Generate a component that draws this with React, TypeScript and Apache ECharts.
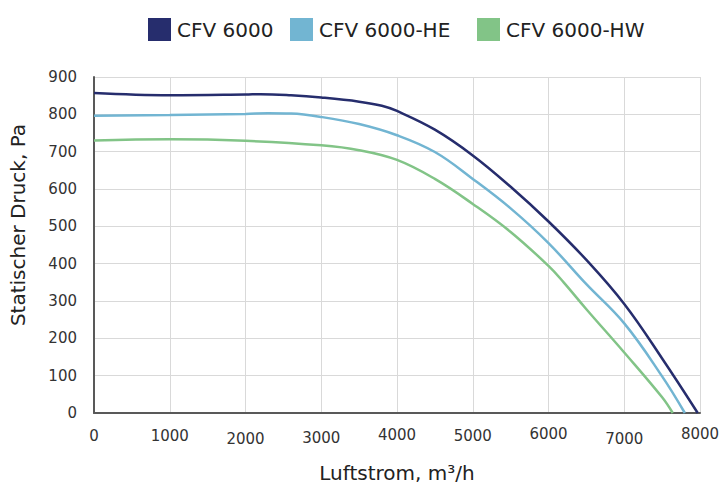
import React, { useEffect, useRef } from "react";
import * as echarts from "echarts";

const seriesNames = ["CFV 6000", "CFV 6000-HE", "CFV 6000-HW"];
const seriesColors = ["#262D6D", "#72B5D2", "#82C487"];

const flowA = [0, 1000, 2000, 2200, 2600, 3000, 3500, 3800, 4000, 4500, 5000, 5500, 6000, 6500, 7000, 7500, 7970];
const pressA = [857, 851, 853, 854, 851, 845, 834, 823, 809, 759, 690, 606, 513, 410, 292, 146, 0];

const flowB = [0, 1000, 2000, 2300, 2600, 3000, 3500, 4000, 4500, 5000, 5500, 6000, 6500, 7000, 7500, 7800];
const pressB = [796, 798, 801, 803, 802, 793, 774, 744, 699, 627, 548, 455, 345, 240, 98, 0];

const flowC = [0, 1000, 2000, 3000, 3500, 4000, 4500, 5000, 5500, 6000, 6200, 6500, 7000, 7500, 7640];
const pressC = [730, 733, 729, 717, 704, 678, 627, 560, 485, 394, 350, 278, 162, 42, 0];

const xTicks = { min: 0, max: 8000, interval: 1000 };
const yTicks = { min: 0, max: 900, interval: 100 };
const xTickLabels = ["0", "1000", "2000", "3000", "4000", "5000", "6000", "7000", "8000"];
// slight vertical jitter of the x tick labels, as in the source picture
const xTickStyle = ["p2", "p2", "p5", "p4", "p1", "p2", "p0", "p5", "p0"];
const legendLefts = [143, 285, 472];

const FONT = "DejaVu Sans";

function pairs(xs: number[], ys: number[]) {
  return xs.map((x, i) => [x, ys[i]]);
}

export default function App() {
  const ref = useRef<HTMLDivElement>(null);
  useEffect(() => {
    document.body.style.margin = "0";
    const chart = echarts.init(ref.current!, undefined, { renderer: "svg" });
    const data = [pairs(flowA, pressA), pairs(flowB, pressB), pairs(flowC, pressC)];
    const rich: Record<string, any> = {};
    [0, 1, 2, 3, 4, 5].forEach((p) => {
      rich["p" + p] = { padding: [p, 0, 0, 0], fontSize: 15, color: "#333", fontFamily: FONT };
    });
    chart.setOption({
      animation: false,
      backgroundColor: "#ffffff",
      textStyle: { fontFamily: FONT },
      legend: seriesNames.map((name, i) => ({
        top: 13,
        left: legendLefts[i],
        icon: "rect",
        itemWidth: 23,
        itemHeight: 23,
        itemGap: 0,
        textStyle: { fontSize: 20, color: "#222", fontFamily: FONT, padding: [0, 0, 0, 1] },
        data: [name],
      })),
      grid: { left: 93, right: 25, top: 77, bottom: 71 },
      xAxis: {
        type: "value",
        min: xTicks.min,
        max: xTicks.max,
        interval: xTicks.interval,
        name: "Luftstrom, m³/h",
        nameLocation: "middle",
        nameGap: 50,
        nameTextStyle: { fontSize: 20, color: "#222", fontFamily: FONT },
        axisLine: { show: true, lineStyle: { color: "#595959", width: 2 } },
        axisTick: { show: false },
        axisLabel: {
          margin: 13,
          formatter: (v: number) => {
            const i = Math.round(v / xTicks.interval);
            return `{${xTickStyle[i]}|${xTickLabels[i]}}`;
          },
          rich,
        },
        splitLine: { show: true, lineStyle: { color: "#d9d9d9", width: 1 } },
      },
      yAxis: {
        type: "value",
        min: yTicks.min,
        max: yTicks.max,
        interval: yTicks.interval,
        name: "Statischer Druck, Pa",
        nameLocation: "middle",
        nameGap: 66,
        nameTextStyle: { fontSize: 20, color: "#222", fontFamily: FONT, padding: [0, 0, 0, 40] },
        axisLine: { show: true, lineStyle: { color: "#595959", width: 2 } },
        axisTick: { show: false },
        axisLabel: { fontSize: 15, color: "#333", margin: 17, fontFamily: FONT },
        splitLine: { show: true, lineStyle: { color: "#d9d9d9", width: 1 } },
      },
      series: seriesNames.map((name, i) => ({
        name,
        type: "line",
        data: data[i],
        smooth: 0.4,
        symbol: "none",
        color: seriesColors[i],
        lineStyle: { width: 2.5, color: seriesColors[i] },
        z: 3 - i,
      })),
    });
    return () => chart.dispose();
  }, []);
  return <div ref={ref} style={{ width: 725, height: 488 }} />;
}
